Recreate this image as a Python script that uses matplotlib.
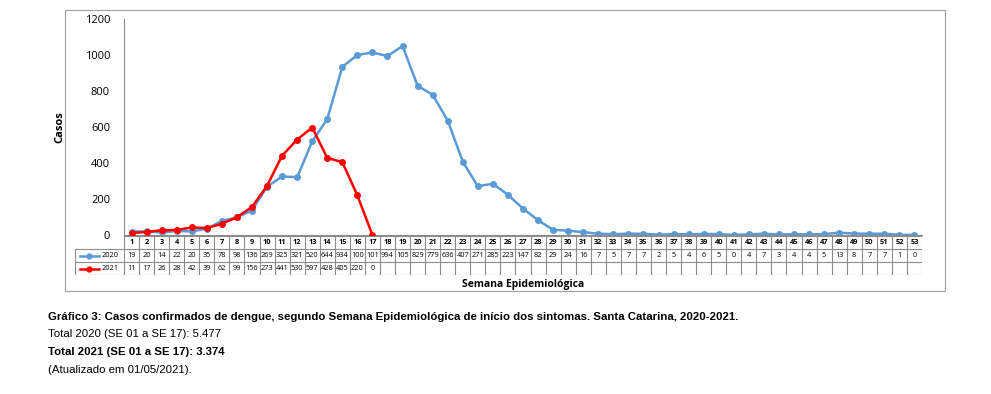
import matplotlib.pyplot as plt
from matplotlib.patches import Rectangle

plt.rcParams['font.family'] = ['Open Sans', 'DejaVu Sans']

weeks = list(range(1, 54))
casos_2020 = [19, 20, 14, 22, 20, 35, 78, 98, 136, 269, 325, 321, 520, 644, 934, 1000, 1014,
              994, 1050, 829, 779, 636, 407, 271, 285, 223, 147, 82, 29, 24, 16, 7, 5, 7, 7,
              2, 5, 4, 6, 5, 0, 4, 7, 3, 4, 4, 5, 13, 8, 7, 7, 1, 0]
casos_2021 = [11, 17, 26, 28, 42, 39, 62, 99, 156, 273, 441, 530, 597, 428, 405, 220, 0]
yticks = [0, 200, 400, 600, 800, 1000, 1200]

W, H = 991, 394
blue = '#5b9bd5'
red = '#ff0000'
grid = '#8c8c8c'

fig = plt.figure(figsize=(W / 100, H / 100), dpi=100)

def fx(px):
    return px / W

def fy(py):
    return 1 - py / H

# outer chart frame
fig.patches.append(Rectangle((fx(65), fy(291)), fx(945) - fx(65), fy(10) - fy(291),
                             transform=fig.transFigure, fill=False, ec='#a0a0a0', lw=0.8))

x0, x1, ytop, ybot = 124, 922, 19, 235
ax = fig.add_axes([fx(x0), fy(ybot), fx(x1) - fx(x0), fy(ytop) - fy(ybot)])
ax.plot(weeks, casos_2020, color=blue, lw=1.8, marker='o', ms=4, zorder=2)
ax.plot(weeks[:len(casos_2021)], casos_2021, color=red, lw=1.8, marker='o', ms=4, zorder=3)
ax.set_xlim(0.5, 53.5)
ax.set_ylim(0, 1200)
ax.set_yticks(yticks)
ax.tick_params(axis='y', length=0, labelsize=8, pad=10)
ax.set_xticks([])
for s in ['top', 'right']:
    ax.spines[s].set_visible(False)
ax.spines['left'].set_color(grid)
ax.spines['bottom'].set_color(grid)
ax.set_ylabel('Casos', fontsize=8, fontweight='bold', labelpad=14)

# data table under the axis
tl, tt, tb = 75, 236, 275
colw = (x1 - x0) / 53
tab = fig.add_axes([fx(tl), fy(tb), fx(x1) - fx(tl), fy(tt) - fy(tb)])
tab.set_xlim(0.5 - (x0 - tl) / colw, 53.5)
tab.set_ylim(0, 3)
tab.axis('off')
lx = 0.5 - (x0 - tl) / colw
# horizontal lines
tab.plot([0.5, 53.5], [3, 3], color=grid, lw=0.8)
for yv in [0, 1, 2]:
    tab.plot([lx, 53.5], [yv, yv], color=grid, lw=0.8)
tab.plot([lx, lx], [0, 2], color=grid, lw=0.8)
for i in range(54):
    tab.plot([i + 0.5, i + 0.5], [0, 3], color=grid, lw=0.8)
for i, w in enumerate(weeks):
    tab.text(w, 2.5, str(w), ha='center', va='center', fontsize=5.3, fontweight='bold')
    tab.text(w, 1.5, str(casos_2020[i])[:3], ha='center', va='center', fontsize=5.3)
    if i < len(casos_2021):
        tab.text(w, 0.5, str(casos_2021[i])[:3], ha='center', va='center', fontsize=5.3)
for row, lab, c in [(1.5, '2020', blue), (0.5, '2021', red)]:
    tab.plot([lx + 0.3, lx + 1.6], [row, row], color=c, lw=1.8)
    tab.plot([lx + 0.95], [row], color=c, marker='o', ms=3.5)
    tab.text(lx + 1.8, row, lab, ha='left', va='center', fontsize=5.3)

fig.text(fx(523), fy(284), 'Semana Epidemiológica', ha='center', va='center',
         fontsize=7.5, fontweight='bold')

cap = ['Liberation Sans Narrow', 'Liberation Sans', 'DejaVu Sans']
fig.text(fx(48), fy(317), 'Gráfico 3: Casos confirmados de dengue, segundo Semana Epidemiológica '
         'de início dos sintomas. Santa Catarina, 2020-2021.', fontsize=8.2, fontweight='bold',
         va='center', family=['Liberation Sans', 'DejaVu Sans'])
fig.text(fx(48), fy(334), 'Total 2020 (SE 01 a SE 17): 5.477', fontsize=8.2, va='center',
         family=['Liberation Sans', 'DejaVu Sans'])
fig.text(fx(48), fy(352), 'Total 2021 (SE 01 a SE 17): 3.374', fontsize=8.2, va='center',
         fontweight='bold', family=['Liberation Sans', 'DejaVu Sans'])
fig.text(fx(48), fy(370), '(Atualizado em 01/05/2021).', fontsize=8.2, va='center',
         family=['Liberation Sans', 'DejaVu Sans'])

fig.savefig('out.png', dpi=100)
